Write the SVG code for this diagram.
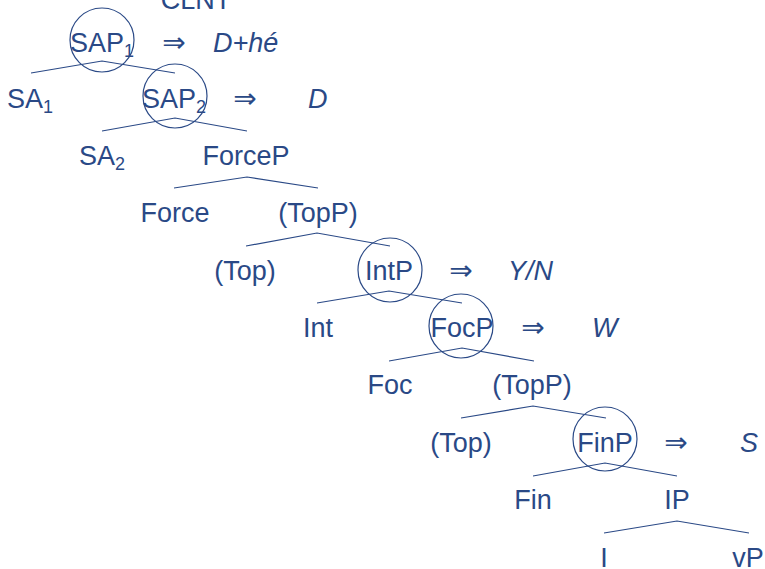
<svg xmlns="http://www.w3.org/2000/svg" width="765" height="569" viewBox="0 0 765 569">
<style>
text{font-family:"Liberation Sans","DejaVu Sans",sans-serif;font-size:27px;fill:#2a4986;text-anchor:middle}
.it{font-style:italic;text-anchor:start}
.arr{font-family:"DejaVu Sans",sans-serif;font-size:28px}
.sub{font-size:18px}
.br{fill:none;stroke:#2a4986;stroke-width:1.2}
.ring{fill:none;stroke:#2a4986;stroke-width:1.2}
</style>
<rect width="765" height="569" fill="#fff"/>
<g id="connectors">
<polyline class="br" points="31,73 102,61 175,73"/>
<polyline class="br" points="102,131 175,118 247,131"/>
<polyline class="br" points="174,188 247,177 318,188"/>
<polyline class="br" points="246,246 317,233 390,246"/>
<polyline class="br" points="317,303 389,291 462,303"/>
<polyline class="br" points="389,361 462,348 534,361"/>
<polyline class="br" points="461,418 533,406 606,418"/>
<polyline class="br" points="533,476 605,463 677,476"/>
<polyline class="br" points="604,533 677,521 749,533"/>
</g>
<g id="clnt"><text x="196" y="9">CLNT</text></g>
<g id="sap1">
<circle class="ring" cx="102" cy="40" r="32"/>
<text x="102" y="52">SAP<tspan class="sub" dy="5">1</tspan></text>
<text class="arr" x="174" y="52">⇒</text>
<text class="it" x="213" y="52">D+hé</text>
</g>
<g id="sa1"><text x="30" y="108">SA<tspan class="sub" dy="5">1</tspan></text></g>
<g id="sap2">
<circle class="ring" cx="175" cy="96" r="32"/>
<text x="174" y="108">SAP<tspan class="sub" dy="5">2</tspan></text>
<text class="arr" x="245" y="108">⇒</text>
<text class="it" x="308" y="108">D</text>
</g>
<g id="sa2"><text x="102" y="165">SA<tspan class="sub" dy="5">2</tspan></text></g>
<g id="forcep"><text x="246" y="165">ForceP</text></g>
<g id="force"><text x="175" y="222">Force</text></g>
<g id="topp1"><text x="318" y="222">(TopP)</text></g>
<g id="top1"><text x="245" y="280">(Top)</text></g>
<g id="intp">
<circle class="ring" cx="390" cy="270" r="32"/>
<text x="389" y="280">IntP</text>
<text class="arr" x="461" y="280">⇒</text>
<text class="it" x="508" y="280">Y/N</text>
</g>
<g id="int"><text x="318" y="337">Int</text></g>
<g id="focp">
<circle class="ring" cx="461" cy="326" r="32"/>
<text x="462" y="337">FocP</text>
<text class="arr" x="533" y="337">⇒</text>
<text class="it" x="592" y="337">W</text>
</g>
<g id="foc"><text x="390" y="394">Foc</text></g>
<g id="topp2"><text x="532" y="394">(TopP)</text></g>
<g id="top2"><text x="461" y="452">(Top)</text></g>
<g id="finp">
<circle class="ring" cx="605" cy="439" r="32"/>
<text x="605" y="452">FinP</text>
<text class="arr" x="676" y="452">⇒</text>
<text class="it" x="740" y="452">S</text>
</g>
<g id="fin"><text x="533" y="509">Fin</text></g>
<g id="ip"><text x="677" y="509">IP</text></g>
<g id="i"><text x="604" y="567">I</text></g>
<g id="vp"><text x="748" y="567">vP</text></g>
</svg>
